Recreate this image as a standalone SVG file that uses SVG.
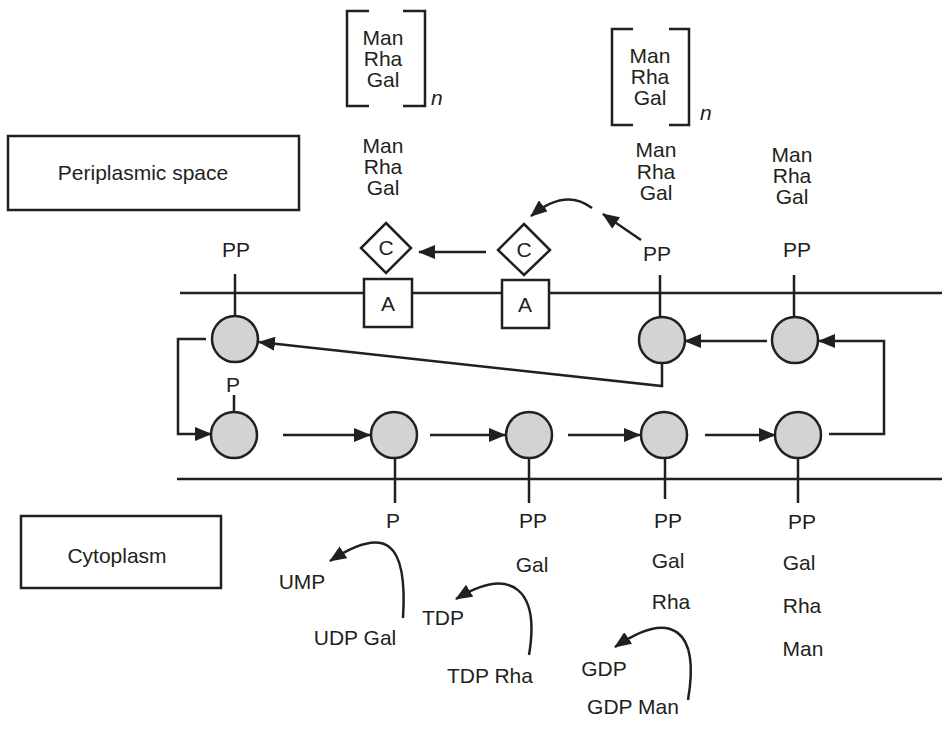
<svg xmlns="http://www.w3.org/2000/svg" width="942" height="729" viewBox="0 0 942 729">
<style>
text{font-family:"Liberation Sans",Arial,sans-serif;font-size:21px;fill:#231f20;text-anchor:middle}
.ln{stroke:#231f20;stroke-width:2.5;fill:none}
.ar{stroke:#231f20;stroke-width:2.5;fill:none;marker-end:url(#ah)}
.cir{fill:#d1d3d4;stroke:#231f20;stroke-width:2.5}
.box{fill:#fff;stroke:#231f20;stroke-width:2.5}
.it{font-style:italic;text-anchor:start}
</style>
<defs>
<marker id="ah" markerWidth="17" markerHeight="14" refX="16" refY="7" orient="auto" markerUnits="userSpaceOnUse">
<path d="M0,0 L17,7 L0,14 Z" fill="#231f20"/>
</marker>
</defs>
<rect width="942" height="729" fill="#fff"/>

<g id="periplasm-label">
<rect class="box" x="8" y="136" width="291" height="74"/>
<text x="143" y="180">Periplasmic space</text>
</g>
<g id="cytoplasm-label">
<rect class="box" x="21" y="516" width="200" height="72"/>
<text x="117" y="563">Cytoplasm</text>
</g>

<g id="membranes">
<line class="ln" x1="180" y1="293" x2="942" y2="293"/>
<line class="ln" x1="177" y1="479" x2="942" y2="479"/>
</g>

<g id="polymer1">
<path class="ln" d="M369,11 H347 V106 H369 M403,11 H425 V106 H403"/>
<text x="383" y="45">Man</text>
<text x="383" y="66">Rha</text>
<text x="383" y="87">Gal</text>
<text class="it" x="431" y="105">n</text>
</g>
<g id="polymer2">
<path class="ln" d="M633,29 H612 V125 H633 M669,29 H689 V125 H669"/>
<text x="650" y="63">Man</text>
<text x="650" y="84">Rha</text>
<text x="650" y="105">Gal</text>
<text class="it" x="700" y="120">n</text>
</g>
<g id="unit1">
<text x="383" y="153">Man</text>
<text x="383" y="174">Rha</text>
<text x="383" y="195">Gal</text>
</g>
<g id="unit2">
<text x="656" y="157">Man</text>
<text x="656" y="179">Rha</text>
<text x="656" y="200">Gal</text>
</g>
<g id="unit3">
<text x="792" y="162">Man</text>
<text x="792" y="183">Rha</text>
<text x="792" y="204">Gal</text>
</g>

<g id="C1">
<path class="box" d="M386,223 L411,248 L386,273 L361,248 Z"/>
<text x="386" y="255">C</text>
</g>
<g id="C2">
<path class="box" d="M524,224 L550,250 L524,275 L498,250 Z"/>
<text x="524" y="257">C</text>
</g>
<g id="A1">
<rect class="box" x="364" y="279" width="48" height="48"/>
<text x="388" y="311">A</text>
</g>
<g id="A2">
<rect class="box" x="502" y="280" width="47" height="48"/>
<text x="525" y="312">A</text>
</g>

<g id="top1">
<line class="ln" x1="235" y1="274" x2="235" y2="316"/>
<circle class="cir" cx="235" cy="339" r="23"/>
<text x="236" y="257">PP</text>
</g>
<g id="top2">
<line class="ln" x1="660" y1="275" x2="660" y2="317"/>
<circle class="cir" cx="662" cy="340" r="23"/>
<text x="657" y="261">PP</text>
</g>
<g id="top3">
<line class="ln" x1="794" y1="275" x2="794" y2="317"/>
<circle class="cir" cx="795" cy="340" r="23"/>
<text x="797" y="257">PP</text>
</g>

<g id="bot1">
<line class="ln" x1="234" y1="395" x2="234" y2="412"/>
<circle class="cir" cx="234" cy="435" r="23"/>
<text x="233" y="392">P</text>
</g>
<g id="bot2">
<line class="ln" x1="395" y1="458" x2="395" y2="503"/>
<circle class="cir" cx="394" cy="435" r="23"/>
<text x="393" y="528">P</text>
</g>
<g id="bot3">
<line class="ln" x1="529" y1="458" x2="529" y2="503"/>
<circle class="cir" cx="529" cy="435" r="23"/>
<text x="533" y="528">PP</text>
<text x="532" y="572">Gal</text>
</g>
<g id="bot4">
<line class="ln" x1="665" y1="458" x2="665" y2="499"/>
<circle class="cir" cx="664" cy="435" r="23"/>
<text x="668" y="528">PP</text>
<text x="668" y="568">Gal</text>
<text x="671" y="609">Rha</text>
</g>
<g id="bot5">
<line class="ln" x1="798" y1="458" x2="798" y2="503"/>
<circle class="cir" cx="798" cy="435" r="23"/>
<text x="802" y="529">PP</text>
<text x="799" y="570">Gal</text>
<text x="802" y="613">Rha</text>
<text x="803" y="656">Man</text>
</g>

<g id="nucleotides">
<text x="302" y="589">UMP</text>
<text x="355" y="645">UDP Gal</text>
<text x="443" y="625">TDP</text>
<text x="490" y="683">TDP Rha</text>
<text x="604" y="676">GDP</text>
<text x="633" y="714">GDP Man</text>
</g>

<g id="connectors">
<line class="ar" x1="486" y1="252" x2="419" y2="252"/>
<path class="ar" d="M592,208 C575,195 555,196 531,216"/>
<line class="ar" x1="641" y1="240" x2="603" y2="214"/>
<line class="ar" x1="767" y1="341" x2="685" y2="341"/>
<path class="ar" d="M829,434 H884 V341 H819"/>
<path class="ar" d="M662,363 V386 L259,342"/>
<path class="ar" d="M206,339 H178 V434 H211"/>
<line class="ar" x1="283" y1="435" x2="370" y2="435"/>
<line class="ar" x1="430" y1="435" x2="505" y2="435"/>
<line class="ar" x1="568" y1="435" x2="640" y2="435"/>
<line class="ar" x1="705" y1="435" x2="775" y2="435"/>
<path class="ar" d="M403,618 C408,540 385,525 330,561"/>
<path class="ar" d="M529,655 C540,590 512,565 456,599"/>
<path class="ar" d="M688,700 C700,630 672,608 615,647"/>
</g>
</svg>
